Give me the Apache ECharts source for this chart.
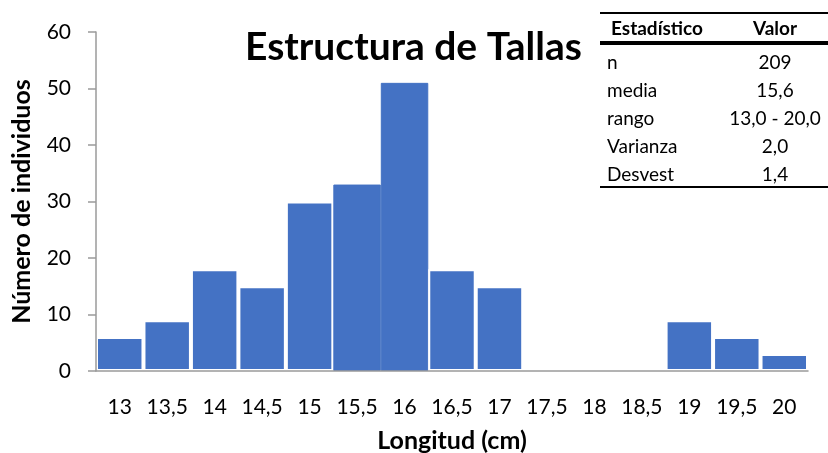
<!DOCTYPE html>
<html>
<head>
<meta charset="utf-8">
<script src="https://cdn.jsdelivr.net/npm/echarts@6/dist/echarts.min.js"></script>
<style>
  html, body { margin: 0; padding: 0; background: #fff; }
  #chart { width: 828px; height: 453px; }
</style>
</head>
<body>
<div id="chart"></div>
<script>
// clases de longitud (cm) y frecuencias
const categories = ['13', '13,5', '14', '14,5', '15', '15,5', '16', '16,5', '17', '17,5', '18', '18,5', '19', '19,5', '20'];
const counts = [6, 9, 18, 15, 30, 33, 51, 18, 15, 0, 0, 0, 9, 6, 3];
// tabla de estadísticos
const statNames = ['n', 'media', 'rango', 'Varianza', 'Desvest'];
const statValues = ['209', '15,6', '13,0 - 20,0', '2,0', '1,4'];

const FONT = 'Lato';
const barColor = '#4472C4';

const myChart = echarts.init(document.getElementById('chart'));

// tabla dibujada con graphic
const tableLeft = 600, tableRight = 828;
const tableGraphic = [
  { type: 'rect', shape: { x: tableLeft, y: 0, width: tableRight - tableLeft, height: 190 }, style: { fill: '#fff' } },
  { type: 'rect', shape: { x: tableLeft, y: 12, width: tableRight - tableLeft, height: 2 }, style: { fill: '#000' } },
  { type: 'rect', shape: { x: tableLeft, y: 41, width: tableRight - tableLeft, height: 4 }, style: { fill: '#000' } },
  { type: 'rect', shape: { x: tableLeft, y: 186, width: tableRight - tableLeft, height: 2 }, style: { fill: '#000' } },
  { type: 'text', x: 611, y: 29, style: { text: 'Estadístico', font: 'bold 19px ' + FONT, fill: '#000', textVerticalAlign: 'middle' } },
  { type: 'text', x: 775, y: 29, style: { text: 'Valor', font: 'bold 19px ' + FONT, fill: '#000', textAlign: 'center', textVerticalAlign: 'middle' } }
];
statNames.forEach((name, i) => {
  const y = 63 + i * 28;
  tableGraphic.push({ type: 'text', x: 607, y: y, style: { text: name, font: '19px ' + FONT, fill: '#000', textVerticalAlign: 'middle' } });
  tableGraphic.push({ type: 'text', x: 775, y: y, style: { text: statValues[i], font: '19px ' + FONT, fill: '#000', textAlign: 'center', textVerticalAlign: 'middle' } });
});

function itemStyleFor(v, i) {
  if (v === 0) return { color: 'rgba(0,0,0,0)', borderWidth: 0 };
  // 15,5 y 16 aparecen unidas en el original
  if (i === 5 || i === 6) return { borderColor: barColor, borderWidth: 1 };
  return undefined;
}

const option = {
  animation: false,
  textStyle: { fontFamily: FONT },
  title: {
    text: 'Estructura de Tallas',
    left: 240,
    top: 23,
    textStyle: { fontFamily: FONT, fontSize: 39, fontWeight: 'bold', color: '#000' }
  },
  grid: { left: 96, right: 20, top: 32, bottom: 82, outerBoundsMode: 'none' },
  xAxis: {
    type: 'category',
    z: 5,
    data: categories,
    name: 'Longitud (cm)',
    nameLocation: 'middle',
    nameGap: 57,
    nameTextStyle: { fontFamily: FONT, fontSize: 25, fontWeight: 'bold', color: '#000' },
    axisLine: { lineStyle: { color: '#9a9a9a', width: 1.5 } },
    axisTick: { length: 8, lineStyle: { color: '#9a9a9a', width: 1.5 } },
    axisLabel: { fontSize: 21, color: '#000', margin: 26, interval: 0 }
  },
  yAxis: {
    type: 'value',
    z: 5,
    min: 0,
    max: 60,
    interval: 10,
    name: 'Número de individuos',
    nameLocation: 'middle',
    nameGap: 62,
    nameTextStyle: { fontFamily: FONT, fontSize: 25, fontWeight: 'bold', color: '#000' },
    axisLine: { show: true, lineStyle: { color: '#9a9a9a', width: 1.5 } },
    axisTick: { show: true, length: 8, lineStyle: { color: '#9a9a9a', width: 1.5 } },
    splitLine: { show: false },
    axisLabel: { fontSize: 21, color: '#000', margin: 25 }
  },
  series: [{
    type: 'bar',
    barCategoryGap: '0%',
    data: counts.map((v, i) => ({ value: v, itemStyle: itemStyleFor(v, i) })),
    itemStyle: { color: barColor, borderColor: '#fff', borderWidth: 2 }
  }],
  graphic: tableGraphic
};

myChart.setOption(option);
</script>
</body>
</html>
